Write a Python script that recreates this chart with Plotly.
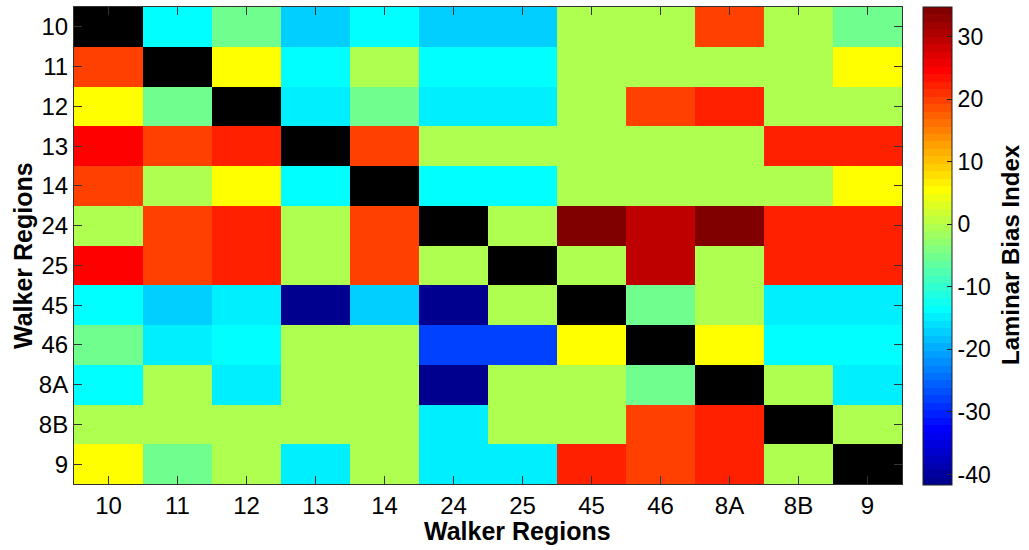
import numpy as np
import plotly.graph_objects as go

# Walker region labels (rows top-to-bottom, columns left-to-right)
regions = ["10", "11", "12", "13", "14", "24", "25", "45", "46", "8A", "8B", "9"]

# Laminar bias index, one list per source region (None = self-connection)
row_10 = [None, -13.5, -5.2, -17.1, -13.5, -17.1, -17.1, 0.0, 0.0, 19.9, 0.0, -5.2]
row_11 = [19.9, None, 5.6, -13.5, 0.0, -13.5, -13.5, 0.0, 0.0, 0.0, 0.0, 5.6]
row_12 = [5.6, -5.2, None, -14.7, -5.2, -14.7, -14.7, 0.0, 19.9, 22.3, 0.0, 0.0]
row_13 = [24.6, 19.9, 22.3, None, 19.9, 0.0, 0.0, 0.0, 0.0, 0.0, 22.3, 22.3]
row_14 = [19.9, 0.0, 5.6, -13.5, None, -13.5, -13.5, 0.0, 0.0, 0.0, 0.0, 5.6]
row_24 = [0.0, 19.9, 22.3, 0.0, 19.9, None, 0.0, 34.8, 29.4, 34.6, 22.3, 22.3]
row_25 = [24.6, 19.9, 22.3, 0.0, 19.9, 0.0, None, 0.0, 29.4, 0.0, 22.3, 22.3]
row_45 = [-13.5, -17.1, -14.7, -41.6, -17.1, -41.2, 0.0, None, -5.2, 0.0, -14.7, -14.7]
row_46 = [-5.2, -14.7, -13.5, 0.0, 0.0, -27.9, -27.9, 5.6, None, 5.6, -13.5, -13.5]
row_8A = [-13.5, 0.0, -14.7, 0.0, 0.0, -40.9, 0.0, 0.0, -5.2, None, 0.0, -14.7]
row_8B = [0.0, 0.0, 0.0, 0.0, 0.0, -14.7, 0.0, 0.0, 19.9, 22.3, None, 0.0]
row_9 = [5.6, -5.2, 0.0, -14.7, 0.0, -14.7, -14.7, 22.3, 19.9, 22.3, 0.0, None]

z = [row_10, row_11, row_12, row_13, row_14, row_24, row_25,
     row_45, row_46, row_8A, row_8B, row_9]

cbar_ticks = [-40, -30, -20, -10, 0, 10, 20, 30]


def jet(n=64):
    """MATLAB-style jet colormap with n entries."""
    m = int(np.ceil(n / 4))
    u = np.concatenate([np.arange(1, m + 1) / m, np.ones(m - 1), np.arange(m, 0, -1) / m])
    g0 = int(np.ceil(m / 2)) - (1 if n % 4 == 1 else 0)
    g = g0 + np.arange(1, len(u) + 1)
    r = g + m
    b = g - m
    cmap = np.zeros((n, 3))
    for idx, ch in ((r, 0), (g, 1), (b, 2)):
        ok = (idx >= 1) & (idx <= n)
        cmap[idx[ok] - 1, ch] = u[ok]
    return cmap


cmap = jet(64)
colorscale = []
for i, c in enumerate(cmap):
    col = "rgb(%d,%d,%d)" % tuple(int(round(v * 255)) for v in c)
    colorscale.append([i / 64, col])
    colorscale.append([(i + 1) / 64, col])

font_family = "Liberation Sans, Arial, sans-serif"

fig = go.Figure(
    go.Heatmap(
        z=z,
        x=regions,
        y=regions,
        colorscale=colorscale,
        zmin=-41.6,
        zmax=34.8,
        xgap=0,
        ygap=0,
        colorbar=dict(
            x=(923 - 74) / 828,
            xanchor="left",
            y=0.5,
            yanchor="middle",
            len=478 / 477,
            lenmode="fraction",
            thickness=29,
            xpad=0,
            ypad=0,
            outlinecolor="#222",
            outlinewidth=1,
            ticks="inside",
            ticklen=5,
            tickcolor="#222",
            tickvals=cbar_ticks,
            ticktext=[str(t) for t in cbar_ticks],
            tickfont=dict(family=font_family, size=23, color="black"),
        ),
    )
)

axis_common = dict(
    type="category",
    showline=True,
    linecolor="#333",
    linewidth=1,
    mirror="ticks",
    ticks="inside",
    ticklen=8,
    tickcolor="#333",
    tickfont=dict(family=font_family, size=24, color="black"),
    showgrid=False,
    zeroline=False,
)

fig.update_layout(
    width=1029,
    height=550,
    margin=dict(l=74, r=127, t=7, b=66),
    paper_bgcolor="white",
    plot_bgcolor="black",
    xaxis=dict(**axis_common),
    yaxis=dict(**axis_common, autorange="reversed"),
    annotations=[
        dict(text="<b>Walker Regions</b>", xref="paper", yref="paper",
             x=(517 - 74) / 828, y=(484 - 531) / 477, xanchor="center", yanchor="middle",
             showarrow=False, font=dict(family=font_family, size=25, color="black")),
        dict(text="<b>Walker Regions</b>", xref="paper", yref="paper",
             x=(23 - 74) / 828, y=(484 - 256) / 477, xanchor="center", yanchor="middle",
             textangle=-90, showarrow=False,
             font=dict(family=font_family, size=25, color="black")),
        dict(text="<b>Laminar Bias Index</b>", xref="paper", yref="paper",
             x=(1010 - 74) / 828, y=(484 - 254) / 477, xanchor="center", yanchor="middle",
             textangle=-90, showarrow=False,
             font=dict(family=font_family, size=24, color="black")),
    ],
)

fig.write_html("out.html")
